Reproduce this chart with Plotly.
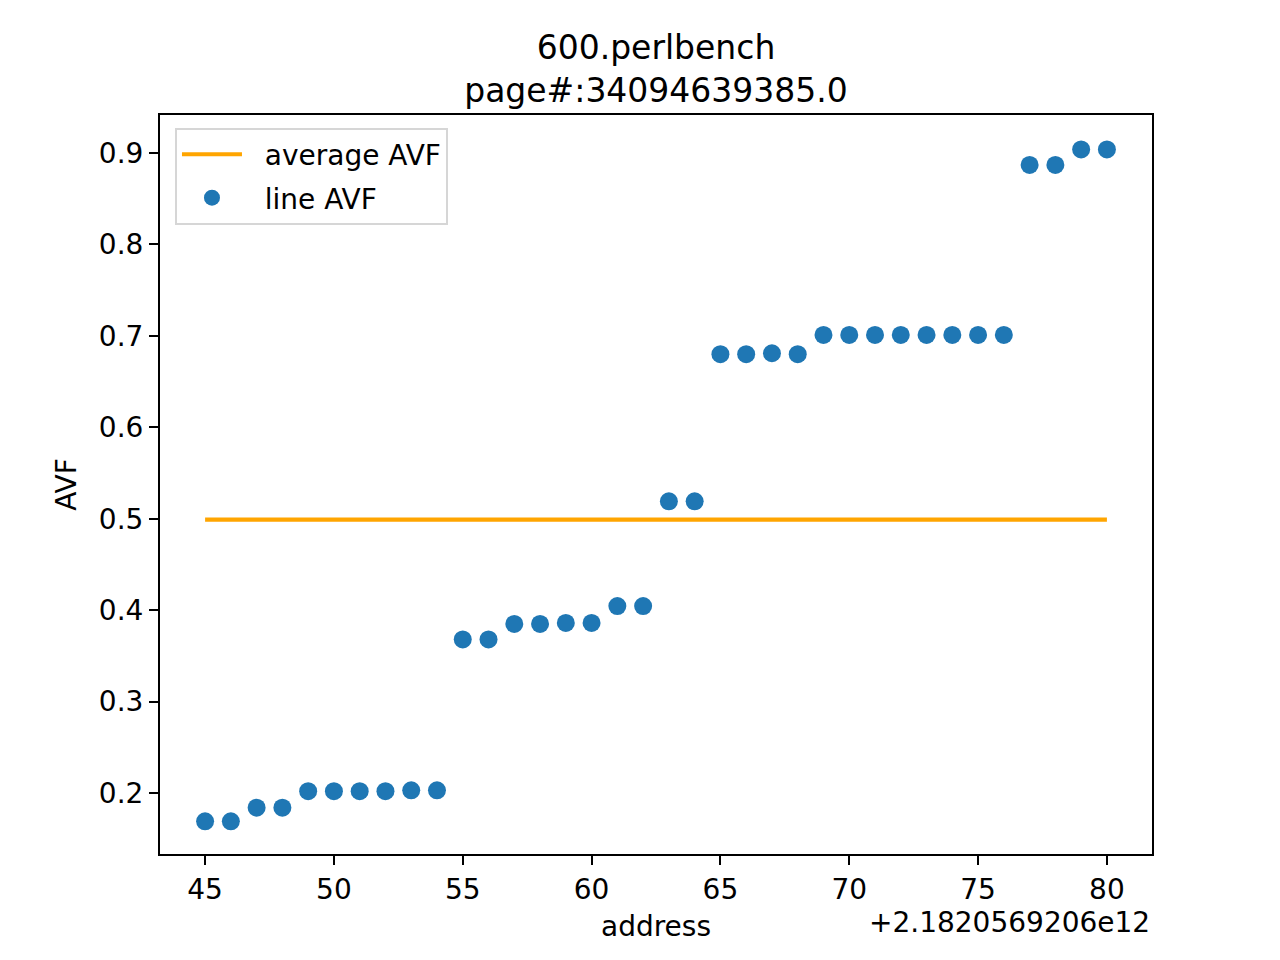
import plotly.graph_objects as go

address_offset_label = "+2.1820569206e12"
address = list(range(45, 81))
line_avf = [0.169, 0.169, 0.184, 0.184, 0.202, 0.202, 0.202, 0.202, 0.203, 0.203,
            0.368, 0.368, 0.385, 0.385, 0.386, 0.386, 0.4045, 0.4045,
            0.519, 0.519,
            0.680, 0.680, 0.681, 0.680,
            0.701, 0.701, 0.701, 0.701, 0.701, 0.701, 0.701, 0.701,
            0.887, 0.887, 0.904, 0.904]
average_avf = 0.499
x_ticks = [45, 50, 55, 60, 65, 70, 75, 80]
y_ticks = [0.2, 0.3, 0.4, 0.5, 0.6, 0.7, 0.8, 0.9]

FONT = "DejaVu Sans, Liberation Sans, sans-serif"
GAP = "\u00a0\u00a0"

fig = go.Figure()
fig.add_trace(go.Scatter(
    x=address, y=[average_avf] * len(address), mode="lines",
    name=GAP + "average AVF", legendgroup="a",
    line=dict(color="#ffa500", width=4.2)))
fig.add_trace(go.Scatter(
    x=address, y=line_avf, mode="markers", name=GAP + "line AVF", legendgroup="b",
    marker=dict(color="#1f77b4", size=18, line=dict(width=0))))

axis_common = dict(
    showgrid=False, zeroline=False, showline=True, linecolor="black",
    linewidth=2, mirror=True, ticks="outside", ticklen=9, tickwidth=2,
    tickcolor="black", tickfont=dict(family=FONT, size=28, color="black"),
)

fig.update_layout(
    width=1280, height=960,
    paper_bgcolor="white", plot_bgcolor="white",
    margin=dict(l=152, r=136, t=107, b=114),
    font=dict(family=FONT, color="black"),
    title=dict(text="600.perlbench<br>page#:34094639385.0",
               x=0.5, xanchor="center", xref="paper",
               y=1 - 51 / 960, yanchor="middle", yref="container",
               font=dict(family=FONT, size=33, color="black")),
    xaxis=dict(range=[43.25, 81.75], tickvals=x_ticks,
               title=dict(text="address", font=dict(family=FONT, size=28), standoff=12),
               **axis_common),
    yaxis=dict(range=[0.1333, 0.9416], tickvals=y_ticks, tickformat=".1f",
               title=dict(text="AVF", font=dict(family=FONT, size=28), standoff=14),
               **axis_common),
    legend=dict(x=0.0151, y=0.983, xanchor="left", yanchor="top",
                bgcolor="rgba(255,255,255,0.8)", bordercolor="#d6d6d6",
                borderwidth=2, itemwidth=60, tracegroupgap=4,
                font=dict(family=FONT, size=28, color="black")),
    showlegend=True,
)

fig.add_annotation(
    text=address_offset_label, xref="paper", yref="paper",
    x=1, y=(846 - 914) / 739, xanchor="right", yanchor="middle",
    showarrow=False, font=dict(family=FONT, size=28, color="black"))

fig.write_html("out.html")
